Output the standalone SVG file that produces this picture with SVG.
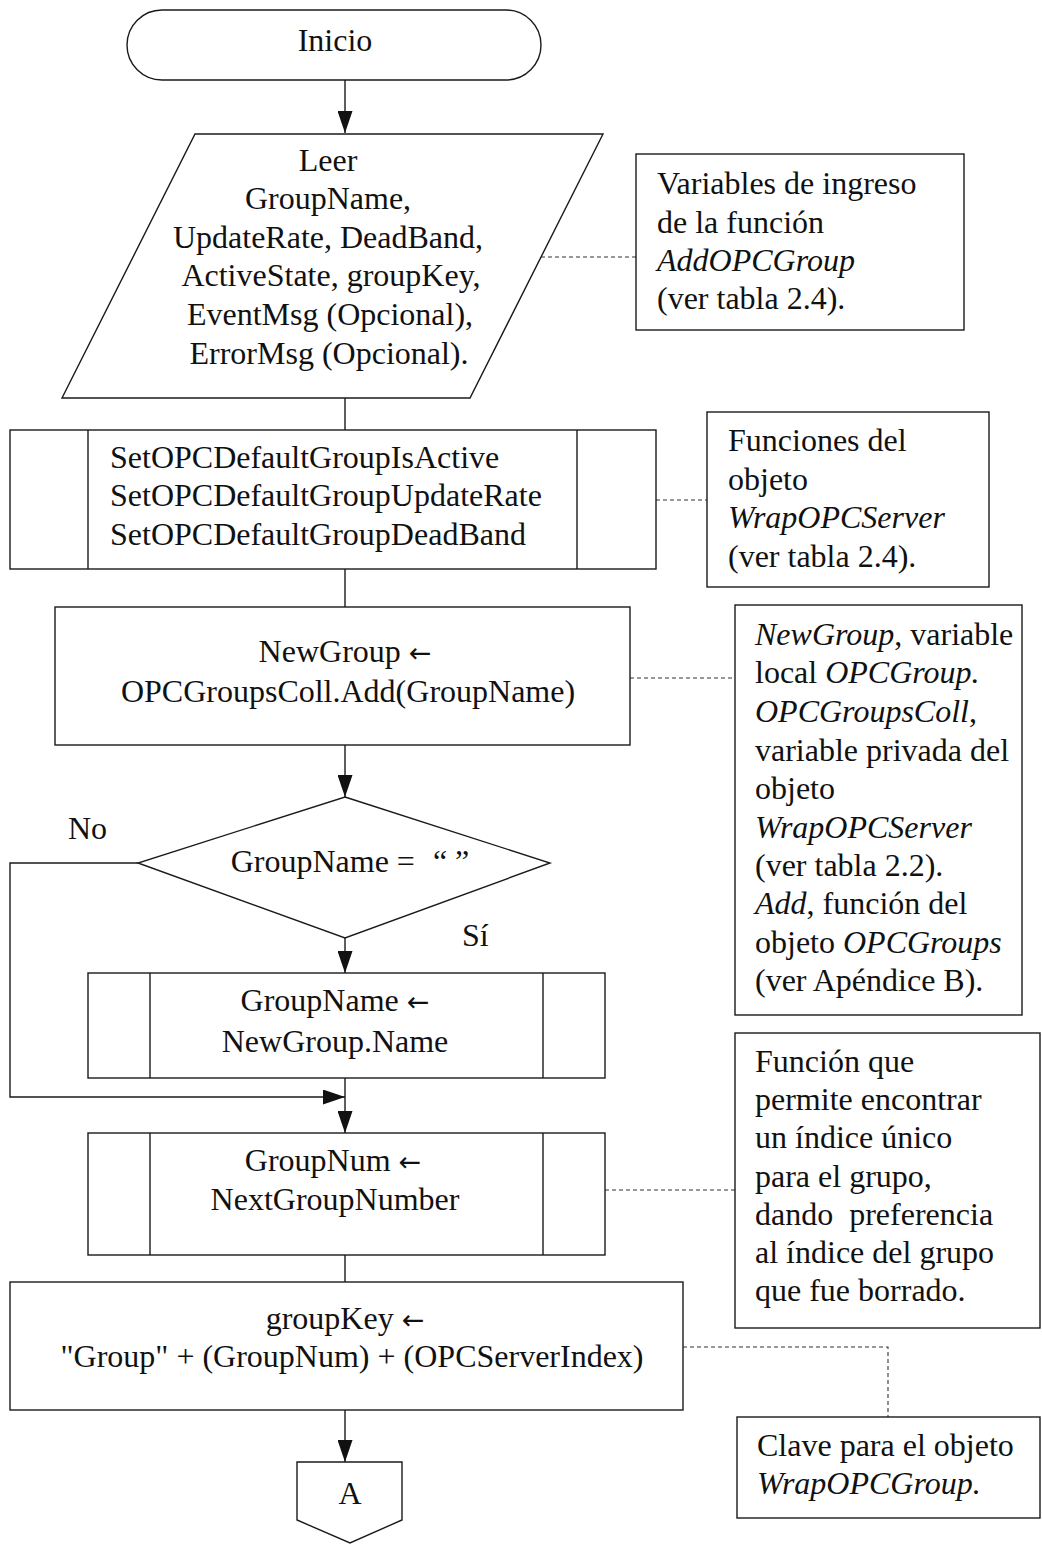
<svg xmlns="http://www.w3.org/2000/svg" width="1042" height="1545" viewBox="0 0 1042 1545">
  <style>
    .shape { fill: #ffffff; stroke: #1a1a1a; stroke-width: 1.4; }
    .line { fill: none; stroke: #1a1a1a; stroke-width: 1.4; }
    .dash { fill: none; stroke: #333333; stroke-width: 1.1; stroke-dasharray: 4 3; }
    text { font-family: "Liberation Serif", "Times New Roman", serif; font-size: 32px; fill: #111111; }
    .c { text-anchor: middle; }
    .i { font-style: italic; }
    .arw { font-family: "DejaVu Sans", sans-serif; font-size: 27px; }
  </style>
  <defs>
    <marker id="arrow" markerUnits="userSpaceOnUse" markerWidth="22" markerHeight="15" refX="22" refY="7.5" orient="auto">
      <path d="M0,0 L22,7.5 L0,15 z" fill="#111111"/>
    </marker>
  </defs>

  <rect width="1042" height="1545" fill="#ffffff"/>

  <!-- connectors -->
  <g id="connectors">
    <line class="line" x1="345" y1="80" x2="345" y2="133" marker-end="url(#arrow)"/>
    <line class="line" x1="345" y1="398" x2="345" y2="430"/>
    <line class="line" x1="345" y1="569" x2="345" y2="607"/>
    <line class="line" x1="345" y1="745" x2="345" y2="797" marker-end="url(#arrow)"/>
    <line class="line" x1="345" y1="938" x2="345" y2="973" marker-end="url(#arrow)"/>
    <polyline class="line" points="138,863 10,863 10,1097 345,1097" marker-end="url(#arrow)"/>
    <line class="line" x1="345" y1="1078" x2="345" y2="1133" marker-end="url(#arrow)"/>
    <line class="line" x1="345" y1="1255" x2="345" y2="1282"/>
    <line class="line" x1="345" y1="1410" x2="345" y2="1462" marker-end="url(#arrow)"/>
    <!-- annotation leaders -->
    <line class="dash" x1="541" y1="257" x2="636" y2="257"/>
    <line class="dash" x1="656" y1="500" x2="707" y2="500"/>
    <line class="dash" x1="630" y1="678" x2="735" y2="678"/>
    <line class="dash" x1="605" y1="1190" x2="735" y2="1190"/>
    <polyline class="dash" points="683,1347 888,1347 888,1417"/>
  </g>

  <g id="inicio">
    <rect class="shape" x="127" y="10" width="414" height="70" rx="35" ry="35"/>
    <text class="c" x="335" y="51">Inicio</text>
  </g>

  <g id="leer">
    <polygon class="shape" points="195,134 603,134 470,398 62,398"/>
    <text class="c" x="328" y="171">Leer</text>
    <text class="c" x="328" y="209">GroupName,</text>
    <text class="c" x="328" y="248">UpdateRate, DeadBand,</text>
    <text class="c" x="331" y="286">ActiveState, groupKey,</text>
    <text class="c" x="330" y="325">EventMsg (Opcional),</text>
    <text class="c" x="329" y="364">ErrorMsg (Opcional).</text>
  </g>

  <g id="nota-variables">
    <rect class="shape" x="636" y="154" width="328" height="176"/>
    <text x="657" y="194">Variables de ingreso</text>
    <text x="657" y="233">de la función</text>
    <text x="657" y="271" class="i">AddOPCGroup</text>
    <text x="657" y="309">(ver tabla 2.4).</text>
  </g>

  <g id="set-defaults">
    <rect class="shape" x="10" y="430" width="646" height="139"/>
    <line class="line" x1="88" y1="430" x2="88" y2="569"/>
    <line class="line" x1="577" y1="430" x2="577" y2="569"/>
    <text x="110" y="468">SetOPCDefaultGroupIsActive</text>
    <text x="110" y="506">SetOPCDefaultGroupUpdateRate</text>
    <text x="110" y="545">SetOPCDefaultGroupDeadBand</text>
  </g>

  <g id="nota-funciones">
    <rect class="shape" x="707" y="412" width="282" height="175"/>
    <text x="728" y="451">Funciones del</text>
    <text x="728" y="490">objeto</text>
    <text x="728" y="528" class="i">WrapOPCServer</text>
    <text x="728" y="567">(ver tabla 2.4).</text>
  </g>

  <g id="new-group">
    <rect class="shape" x="55" y="607" width="575" height="138"/>
    <text class="c" x="345" y="662">NewGroup <tspan class="arw">←</tspan></text>
    <text class="c" x="348" y="702">OPCGroupsColl.Add(GroupName)</text>
  </g>

  <g id="nota-newgroup">
    <rect class="shape" x="735" y="605" width="287" height="410"/>
    <text x="755" y="645"><tspan class="i">NewGroup</tspan>, variable</text>
    <text x="755" y="683">local <tspan class="i">OPCGroup.</tspan></text>
    <text x="755" y="722"><tspan class="i">OPCGroupsColl</tspan>,</text>
    <text x="755" y="761">variable privada del</text>
    <text x="755" y="799">objeto</text>
    <text x="755" y="838" class="i">WrapOPCServer</text>
    <text x="755" y="876">(ver tabla 2.2).</text>
    <text x="755" y="914"><tspan class="i">Add</tspan>, función del</text>
    <text x="755" y="953">objeto <tspan class="i">OPCGroups</tspan></text>
    <text x="755" y="991">(ver Apéndice B).</text>
  </g>

  <g id="decision">
    <polygon class="shape" points="345,797 550,863 345,938 138,863"/>
    <text class="c" x="350" y="872">GroupName = <tspan dx="10">“ ”</tspan></text>
    <text x="68" y="839">No</text>
    <text x="462" y="946">Sí</text>
  </g>

  <g id="group-name">
    <rect class="shape" x="88" y="973" width="517" height="105"/>
    <line class="line" x1="150" y1="973" x2="150" y2="1078"/>
    <line class="line" x1="543" y1="973" x2="543" y2="1078"/>
    <text class="c" x="335" y="1011">GroupName <tspan class="arw">←</tspan></text>
    <text class="c" x="335" y="1052">NewGroup.Name</text>
  </g>

  <g id="group-num">
    <rect class="shape" x="88" y="1133" width="517" height="122"/>
    <line class="line" x1="150" y1="1133" x2="150" y2="1255"/>
    <line class="line" x1="543" y1="1133" x2="543" y2="1255"/>
    <text class="c" x="333" y="1171">GroupNum <tspan class="arw">←</tspan></text>
    <text class="c" x="335" y="1210">NextGroupNumber</text>
  </g>

  <g id="nota-funcion">
    <rect class="shape" x="735" y="1033" width="305" height="295"/>
    <text x="755" y="1072">Función que</text>
    <text x="755" y="1110">permite encontrar</text>
    <text x="755" y="1148">un índice único</text>
    <text x="755" y="1187">para el grupo,</text>
    <text x="755" y="1225" xml:space="preserve">dando  preferencia</text>
    <text x="755" y="1263">al índice del grupo</text>
    <text x="755" y="1301">que fue borrado.</text>
  </g>

  <g id="group-key">
    <rect class="shape" x="10" y="1282" width="673" height="128"/>
    <text class="c" x="345" y="1329">groupKey <tspan class="arw">←</tspan></text>
    <text class="c" x="352" y="1367">"Group" + (GroupNum) + (OPCServerIndex)</text>
  </g>

  <g id="nota-clave">
    <rect class="shape" x="737" y="1417" width="303" height="101"/>
    <text x="757" y="1456">Clave para el objeto</text>
    <text x="757" y="1494" class="i">WrapOPCGroup.</text>
  </g>

  <g id="conector-a">
    <polygon class="shape" points="297,1462 402,1462 402,1520 350,1543 297,1520"/>
    <text class="c" x="350" y="1504">A</text>
  </g>
</svg>
